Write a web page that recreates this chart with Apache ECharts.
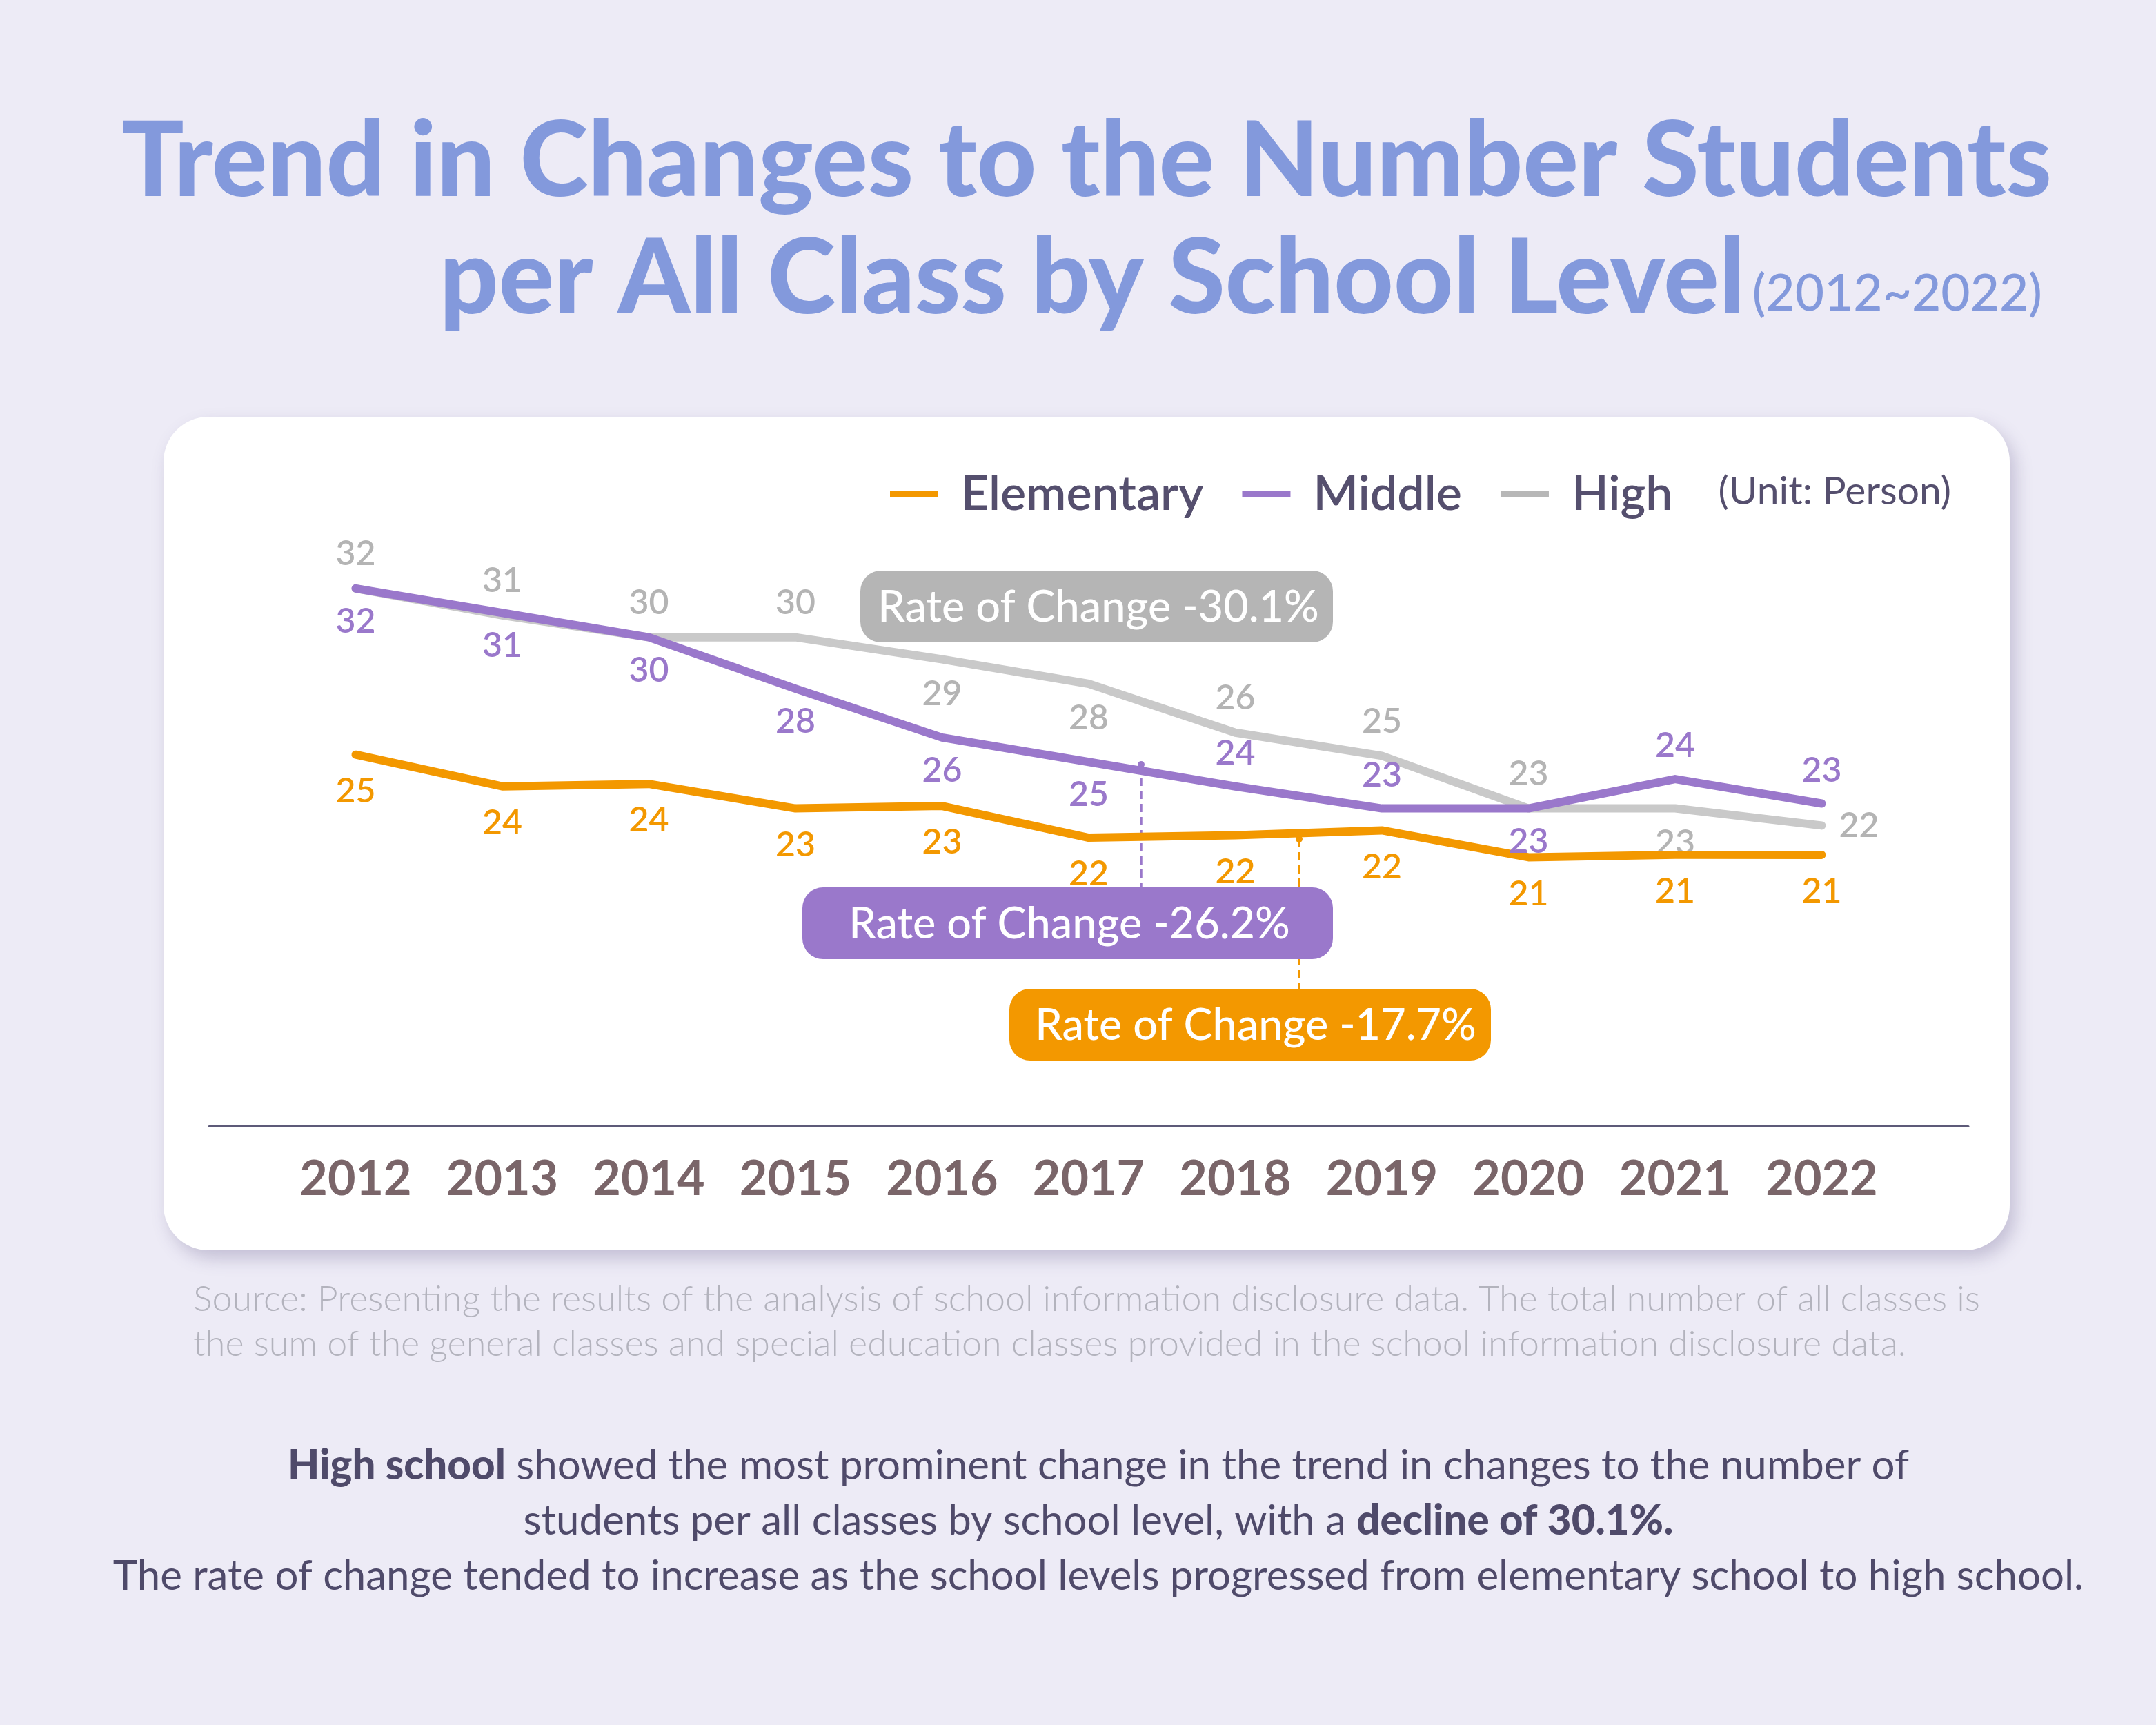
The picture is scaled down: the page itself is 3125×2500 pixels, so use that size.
<!DOCTYPE html>
<html>
<head>
<meta charset="utf-8">
<script src="https://cdn.jsdelivr.net/npm/echarts@6/dist/echarts.min.js"></script>
<style>
  html, body { margin: 0; padding: 0; background: #edebf6; }
  #main { width: 3125px; height: 2500px; }
</style>
</head>
<body>
<div id="main"></div>
<script>
// 学年
const years = [2012, 2013, 2014, 2015, 2016, 2017, 2018, 2019, 2020, 2021, 2022];
// 学级当学生数
const elementary = [25.2, 23.9, 24.0, 23.0, 23.1, 21.8, 21.9, 22.1, 21.0, 21.1, 21.1];
const middle = [32.0, 31.0, 30.0, 27.9, 25.9, 24.9, 23.9, 23.0, 23.0, 24.2, 23.2];
const high = [32.0, 30.9, 30.0, 30.0, 29.1, 28.1, 26.1, 25.15, 23.0, 23.0, 22.3];
const seriesNames = ['Elementary', 'Middle', 'High'];
const rateLabels = ['Rate of Change -30.1%', 'Rate of Change -26.2%', 'Rate of Change -17.7%'];

// 标签放在线的上方还是下方
const elemLabelPos = years.map(() => 'bottom');
const middleLabelPos = ['bottom', 'bottom', 'bottom', 'bottom', 'bottom', 'bottom', 'top', 'top', 'bottom', 'top', 'top'];
const highLabelPos = ['top', 'top', 'top', 'top', 'bottom', 'bottom', 'top', 'top', 'top', 'bottom', 'right'];

const ORANGE = '#f39800';
const PURPLE = '#9a78cb';
const GRAY = '#c9c9c9';
const GRAY_TXT = '#b4b4b4';
const FONT = 'Lato';

let chart = echarts.init(document.getElementById('main'));

function makeData(values, positions) {
    return values.map((v, i) => ({
        value: [years[i], v],
        label: { position: positions[i] }
    }));
}

function lineSeries(name, values, positions, color, labelColor, dist, z) {
    return {
        name: name,
        type: 'line',
        z: z,
        symbol: 'circle',
        symbolSize: 2,
        showSymbol: true,
        showAllSymbol: true,
        data: makeData(values, positions),
        lineStyle: { width: 12, color: color, cap: 'round', join: 'round' },
        itemStyle: { color: color },
        label: {
            show: true,
            distance: dist,
            color: labelColor,
            fontFamily: FONT,
            fontSize: 50,
            fontWeight: 600,
            formatter: p => Math.round(p.value[1])
        },
        emphasis: { disabled: true }
    };
}

// 说明框
function rateBox(x, y, w, h, color, text, tx) {
    return {
        type: 'group',
        children: [
            { type: 'rect', shape: { x: x, y: y, width: w, height: h, r: 30 }, style: { fill: color } },
            {
                type: 'text', x: tx, y: y + h / 2 + 2,
                style: { text: text, fill: '#fff', font: '500 63px ' + FONT, align: 'center', verticalAlign: 'middle' }
            }
        ]
    };
}

function pointer(x, y1, y2, color) {
    return {
        type: 'group',
        children: [
            { type: 'line', shape: { x1: x, y1: y1, x2: x, y2: y2 }, style: { stroke: color, lineWidth: 3.5, lineDash: [12, 7] } },
            { type: 'circle', shape: { cx: x, cy: y1, r: 5 }, style: { fill: color } }
        ]
    };
}

let option = {
    backgroundColor: '#edebf6',
    animation: false,
    grid: { left: 303, width: 2550, top: 782, height: 850 },
    legend: {
        left: 1285,
        top: 676,
        icon: 'rect',
        itemWidth: 70,
        itemHeight: 9,
        itemGap: 56,
        data: [
            { name: 'Elementary', itemStyle: { color: ORANGE } },
            { name: 'Middle', itemStyle: { color: PURPLE } },
            { name: 'High', itemStyle: { color: '#b7b7b7' } }
        ],
        textStyle: { fontFamily: FONT, fontSize: 70, fontWeight: 600, color: '#554f6e', padding: [0, 0, 0, 28] }
    },
    xAxis: {
        type: 'value',
        min: 2011,
        max: 2023,
        interval: 1,
        splitLine: { show: false },
        axisTick: { show: false },
        axisLine: { show: true, lineStyle: { color: '#5d5a78', width: 3 } },
        axisLabel: {
            margin: 42,
            fontFamily: FONT,
            fontSize: 70,
            fontWeight: 700,
            color: '#7a6569',
            formatter: v => (v < 2012 || v > 2022) ? '' : String(v)
        }
    },
    yAxis: {
        type: 'value',
        min: 10,
        max: 34,
        show: false
    },
    series: [
        lineSeries(seriesNames[0], elementary, elemLabelPos, ORANGE, ORANGE, 27, 3),
        lineSeries(seriesNames[1], middle, middleLabelPos, PURPLE, PURPLE, 22, 3),
        lineSeries(seriesNames[2], high, highLabelPos, GRAY, GRAY_TXT, 24, 2)
    ],
    graphic: [
        // 白色卡片
        {
            type: 'rect', z: -10, silent: true,
            shape: { x: 237, y: 604, width: 2676, height: 1208, r: 65 },
            style: { fill: '#fff', shadowBlur: 24, shadowColor: 'rgba(90,80,130,0.28)', shadowOffsetX: 8, shadowOffsetY: 12 }
        },
        // 标题
        {
            type: 'text', x: 2974, y: 236,
            style: { text: 'Trend in Changes to the Number Students', fill: '#8399dc', font: '900 150px ' + FONT, align: 'right', verticalAlign: 'middle' }
        },
        {
            type: 'text', x: 2960, y: 406,
            style: {
                text: '{a|per All Class by School Level}   {b|(2012~2022)}',
                align: 'right', verticalAlign: 'middle',
                rich: {
                    a: { fill: '#8399dc', font: '900 150px ' + FONT },
                    b: { fill: '#8399dc', font: '500 73px ' + FONT, padding: [40, 0, 0, 0] }
                }
            }
        },
        {
            type: 'text', x: 2828, y: 713,
            style: { text: '(Unit: Person)', fill: '#554f6e', font: '400 57px ' + FONT, align: 'right', verticalAlign: 'middle' }
        },
        pointer(1654, 1108, 1286, PURPLE),
        pointer(1883, 1216, 1433, ORANGE),
        rateBox(1247, 827, 685, 104, '#b5b5b5', rateLabels[0], 1592),
        rateBox(1163, 1286, 769, 104, PURPLE, rateLabels[1], 1550),
        rateBox(1463, 1433, 698, 104, ORANGE, rateLabels[2], 1820),
        // 资料来源
        {
            type: 'text', x: 280, y: 1916,
            style: {
                text: 'Source: Presenting the results of the analysis of school information disclosure data. The total number of all classes is\nthe sum of the general classes and special education classes provided in the school information disclosure data.',
                fill: '#b3b3bd', font: '300 52px ' + FONT, lineHeight: 65, align: 'left', verticalAlign: 'middle'
            }
        },
        // 结论
        {
            type: 'text', x: 1592, y: 2205,
            style: {
                text: '{b|High school}{n| showed the most prominent change in the trend in changes to the number of}\n{n|students per all classes by school level, with a }{b|decline of 30.1%.}\n{n|The rate of change tended to increase as the school levels progressed from elementary school to high school.}',
                align: 'center', verticalAlign: 'middle',
                rich: {
                    n: { fill: '#4f4a6a', font: '400 60px ' + FONT, lineHeight: 80 },
                    b: { fill: '#4f4a6a', font: '900 60px ' + FONT, lineHeight: 80 }
                }
            }
        }
    ]
};

chart.setOption(option);
</script>
</body>
</html>
